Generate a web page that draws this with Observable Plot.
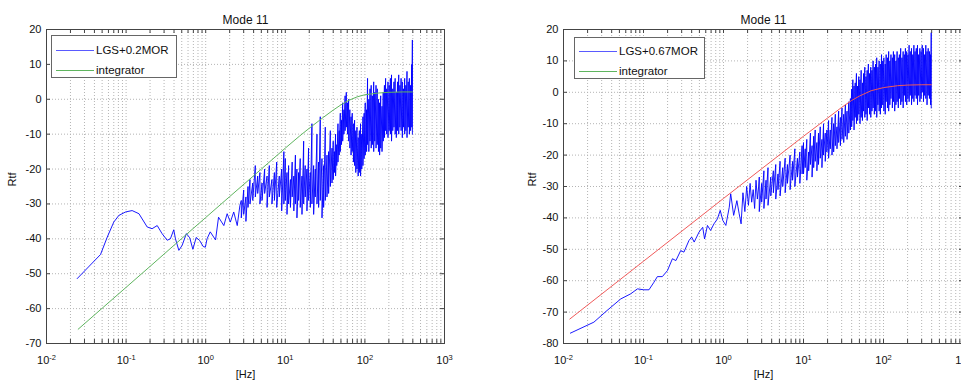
<!DOCTYPE html>
<html><head><meta charset="utf-8">
<script src="https://cdn.jsdelivr.net/npm/d3@7"></script>
<script src="https://cdn.jsdelivr.net/npm/@observablehq/plot@0.6"></script>
<style>
html,body{margin:0;padding:0;background:#fff;}
body{width:961px;height:385px;overflow:hidden;position:relative;font-family:"Liberation Sans",Arial,sans-serif;}
.panel{position:absolute;top:0;height:385px;}
.legend{position:absolute;background:#fff;border:1px solid #666;box-sizing:border-box;font-size:11.5px;color:#111;z-index:2;}
.legend .row{position:absolute;left:0;height:14px;line-height:14px;white-space:nowrap;}
.legend .sw{position:absolute;top:7px;height:1px;}
.legend .lbl{position:absolute;top:0;}
</style></head>
<body>
<div id="left" class="panel" style="left:0;width:480px"></div>
<div id="right" class="panel" style="left:480px;width:520px"></div>
<script>
// ---- text / ticks ----
const titles = ["Mode 11", "Mode 11"];
const xLabel = "[Hz]";
const yLabel = "Rtf";
const leftLegend = ["LGS+0.2MOR", "integrator"];
const rightLegend = ["LGS+0.67MOR", "integrator"];
const xTicks = [0.01, 0.1, 1, 10, 100, 1000];
const leftYTicks = [20, 10, 0, -10, -20, -30, -40, -50, -60, -70];
const rightYTicks = [20, 10, 0, -10, -20, -30, -40, -50, -60, -70, -80];

// ---- left panel: LGS+0.2MOR (low-frequency part) ----
const leftLowF = [0.0243,0.0477,0.058,0.07,0.081,0.0983,0.119,0.145,0.184,0.212,0.246,0.283,0.328,0.36,0.397,0.417,0.46,0.505,0.572,0.63,0.69,0.76,0.84,0.93,0.99,1.04,1.14,1.33,1.45,1.69,1.86,2.04,2.25,2.49,2.69];
const leftLowV = [-51.4,-44.5,-39.5,-35.2,-33.3,-32.3,-31.9,-32.8,-36.6,-37.1,-36.2,-38.5,-40.4,-40,-37.4,-40,-43.3,-41.9,-38.5,-39.7,-43,-39.6,-40.5,-42.2,-42.4,-40,-38,-40.3,-33.8,-36.2,-32.8,-35.2,-32.3,-36.2,-30.4];

// ---- frequencies of the noisy part (both panels) ----
const noiseF = [2.8,3.0,3.2,3.4,3.6,3.9,4.2,4.5,4.8,5.1,5.5,5.9,6.3,6.8,7.3,7.8,8.4,9.0,9.6,
  10,10.5,11,11.6,12.2,12.8,13.4,14,14.7,15.4,16.2,17,17.8,18.7,19.6,20.6,21.6,22.7,23.8,25,26.2,27.5,28.9,30.3,31.8,33.4,35,36.8,38.6,
  40,41.4,42.8,44.3,45.9,47.5,49.1,50.8,52.6,54.5,56.4,58.4,60.4,62.5,64.7,67,69.3,71.7,74.2,76.8,79.5,82.3,85.2,88.2,91.3,94.5,97.8,101,105,108,112,116,120,124,129,133,138,143,148,153,158,164,170,176,182,188,195,202,209,216,224,232,240,248,257,266,275,285,295,305,316,327,338,350,362,375,388,395];

// left noisy part: upper and lower excursions
const leftHi = [-29,-26,-28,-25,-23,-24,-19,-22,-21,-24,-20,-22,-19,-23,-21,-18,-22,-20,-15,
  -17,-21,-19,-23,-18,-22,-16,-20,-21,-17,-22,-12,-19,-20,-14,-21,-7,-19,-20,-10,-18,-5,-17,-19,-8,-16,-15,-9,-14,
  -12,-15,-10,-13,-7,-9,-4,-6,-1,-3,1,2,-1,0,-3,-5,-4,-7,-6,-9,-8,-11,-9,-7,-10,-5,-4,-1,-3,6,0,3,4,1,5,2,4,3,0,-1,1,-2,2,4,6,3,5,4,6,7,3,5,6,2,5,7,4,6,5,3,6,4,8,5,6,4,10,17];
const leftLo = [-34,-33,-35,-31,-30,-29,-28,-27,-30,-29,-27,-31,-28,-30,-29,-31,-28,-32,-30,
  -29,-33,-30,-31,-28,-32,-30,-34,-29,-31,-33,-30,-28,-32,-29,-31,-30,-33,-28,-30,-31,-29,-34,-31,-29,-28,-27,-25,-24,
  -23,-21,-22,-19,-18,-16,-15,-13,-12,-10,-9,-8,-10,-12,-14,-16,-15,-18,-19,-21,-20,-22,-21,-22,-20,-19,-17,-16,-15,-13,-15,-12,-14,-13,-15,-12,-14,-13,-15,-16,-14,-15,-12,-11,-9,-10,-11,-9,-10,-12,-9,-8,-10,-11,-9,-10,-8,-9,-11,-8,-10,-9,-11,-8,-10,-9,-8,-10];

// left integrator
const leftIntF = [0.025,0.05,0.1,0.2,0.5,1,2,5,10,15,20,30,40,50,60,80,100,150,200,300,395];
const leftIntV = [-65.9,-59.9,-53.9,-47.9,-39.9,-33.9,-27.9,-20,-14,-10.6,-8.3,-5.2,-3.1,-1.6,-0.5,0.7,1.3,1.8,2,2.1,2.1];

// ---- right panel: LGS+0.67MOR (low-frequency part) ----
const rightLowF = [0.0122,0.024,0.035,0.052,0.069,0.084,0.101,0.117,0.135,0.149,0.172,0.199,0.23,0.254,0.292,0.32,0.37,0.40,0.43,0.495,0.55,0.58,0.63,0.69,0.76,0.84,0.91,0.98,1.07,1.18,1.23,1.34,1.47,1.57,1.66,1.75,1.85,1.95,2.05,2.15,2.25,2.35,2.45,2.55,2.65,2.75];
const rightLowV = [-76.7,-73.2,-69.5,-65.8,-64.2,-62.6,-62.9,-62.9,-60.5,-58.7,-58.7,-56.8,-53,-53.6,-50.4,-50.9,-47.2,-46.1,-47.7,-44.5,-43,-46.7,-42.4,-44,-41.9,-40.3,-37.6,-40.8,-42.4,-36.6,-32.3,-39.2,-34.5,-38.7,-41.9,-32,-38,-30,-36,-29,-35,-31,-37,-28,-34,-30];

const rightHi = [-27,-29,-25,-28,-24,-27,-25,-23,-26,-22,-24,-21,-23,-20,-22,-18,-21,-19,-17,
  -16,-18,-15,-19,-13,-17,-14,-12,-16,-13,-11,-15,-10,-13,-12,-9,-12,-8,-10,-7,-11,-6,-8,-5,-7,-4,-6,-3,-2,
  1,4,2,3,6,2,5,4,7,3,6,8,5,7,9,6,8,7,10,8,9,11,8,10,9,12,10,11,9,12,11,13,10,12,11,13,12,10,13,11,12,14,11,13,12,14,13,12,15,13,14,12,15,13,14,15,12,14,13,15,14,12,15,13,14,13,12,19];
const rightLo = [-38,-35,-37,-34,-36,-33,-32,-34,-31,-33,-30,-32,-29,-31,-28,-30,-27,-29,-26,
  -26,-24,-28,-25,-23,-27,-24,-22,-25,-23,-21,-24,-20,-22,-19,-21,-18,-20,-19,-17,-18,-16,-17,-15,-16,-14,-15,-13,-12,
  -11,-9,-12,-8,-10,-9,-7,-10,-8,-9,-6,-8,-7,-9,-5,-7,-8,-6,-5,-7,-6,-8,-4,-6,-7,-5,-4,-6,-7,-3,-5,-6,-4,-2,-5,-3,-6,-4,-3,-5,-2,-4,-3,-5,-1,-3,-4,-2,-3,-1,-4,-2,-3,-1,-2,-4,-1,-3,-2,0,-3,-1,-2,-4,-1,-2,-4,-5];

// right "integrator" curve
const rightIntF = [0.012,0.1,1,10,20,30,40,50,70,100,150,200,300,395];
const rightIntV = [-72.2,-53.8,-33.8,-14,-8.2,-4.8,-2.6,-1.2,0.5,1.5,2.1,2.3,2.4,2.4];

// ---- build series tables ----
function buildSeries(lowF, lowV, hi, lo) {
  const pts = lowF.map((f, i) => ({f, v: lowV[i]}));
  noiseF.forEach((f, i) => { pts.push({f, v: hi[i]}); pts.push({f, v: lo[i]}); });
  return pts;
}
const zipFV = (F, V) => F.map((f, i) => ({f, v: V[i]}));

const BLUE = "#0000ff";
const GREEN = "#5fb55f";
const RED = "#f05a5a";
const LEG_BLUE = "#5a5aff";

function panel(el, o) {
  const H = 385, mt = 29, mb = 42;
  const frameH = H - mt - mb;
  const frameW = o.width - o.marginLeft - o.marginRight;
  const minor = d3.scaleLog().domain([xTicks[0], xTicks[xTicks.length - 1]]).ticks();
  const grid = {stroke: "#b4b4b4", strokeDasharray: "1,2", strokeWidth: 1};
  const tk = {stroke: "#444", strokeWidth: 1};
  const svg = Plot.plot({
    width: o.width, height: H,
    marginLeft: o.marginLeft, marginRight: o.marginRight, marginTop: mt, marginBottom: mb,
    style: {background: "#fff", fontFamily: "'Liberation Sans', Arial, sans-serif", fontSize: "11px", color: "#111", overflow: "visible"},
    x: {type: "log", domain: [xTicks[0], xTicks[xTicks.length - 1]]},
    y: {domain: [o.yTicks[o.yTicks.length - 1], o.yTicks[0]]},
    marks: [
      Plot.ruleX(minor, grid),
      Plot.ruleY(o.yTicks, grid),
      Plot.line(o.series, {x: "f", y: "v", stroke: BLUE, strokeWidth: 0.9}),
      Plot.line(o.integ, {x: "f", y: "v", stroke: o.intColor, strokeWidth: 1}),
      Plot.frame({stroke: "#444"}),
      Plot.tickX(minor, {insetTop: frameH - 4, ...tk}),
      Plot.tickX(minor, {insetBottom: frameH - 4, ...tk}),
      Plot.tickY(o.yTicks, {insetRight: frameW - 4, ...tk}),
      Plot.tickY(o.yTicks, {insetLeft: frameW - 4, ...tk}),
      Plot.axisX(xTicks, {tickSize: 0, tickPadding: 13, label: null, fontSize: 11,
        tickFormat: d => "10^" + Math.round(Math.log10(d))}),
      Plot.axisY(o.yTicks, {tickSize: 0, tickPadding: 5, label: null, fontSize: 11,
        tickFormat: d => String(d)}),
      Plot.text([o.title], {text: d => d, frameAnchor: "top", dy: -14, fontSize: 12}),
      Plot.text([xLabel], {text: d => d, frameAnchor: "bottom", dy: 34, fontSize: 11}),
      Plot.text([yLabel], {text: d => d, frameAnchor: "left", dx: o.yLabelDx, rotate: -90, fontSize: 11})
    ]
  });
  // superscript exponents on the x tick labels
  svg.querySelectorAll('[aria-label="x-axis tick label"] text').forEach(t => {
    const parts = t.textContent.split("^");
    if (parts.length !== 2) return;
    t.textContent = parts[0];
    const ts = document.createElementNS("http://www.w3.org/2000/svg", "tspan");
    ts.setAttribute("dy", "-0.62em");
    ts.setAttribute("font-size", "7.5");
    ts.textContent = parts[1];
    t.appendChild(ts);
  });
  el.appendChild(svg);

  // legend box
  const lg = document.createElement("div");
  lg.className = "legend";
  Object.assign(lg.style, {left: o.legend.left + "px", top: o.legend.top + "px", width: o.legend.width + "px", height: o.legend.height + "px"});
  o.legendLabels.forEach((name, i) => {
    const row = document.createElement("div");
    row.className = "row";
    row.style.top = (o.legend.rows[i] - 7) + "px";
    row.style.width = "100%";
    const sw = document.createElement("div");
    sw.className = "sw";
    sw.style.left = "4px";
    sw.style.width = "38px";
    sw.style.backgroundColor = o.legendColors[i];
    const lb = document.createElement("div");
    lb.className = "lbl";
    lb.style.left = "44px";
    lb.textContent = name;
    row.appendChild(sw); row.appendChild(lb);
    lg.appendChild(row);
  });
  el.appendChild(lg);
}

panel(document.getElementById("left"), {
  width: 480, marginLeft: 46, marginRight: 36, yTicks: leftYTicks, title: titles[0], yLabelDx: -34,
  series: buildSeries(leftLowF, leftLowV, leftHi, leftLo),
  integ: zipFV(leftIntF, leftIntV), intColor: GREEN,
  legendLabels: leftLegend, legendColors: [LEG_BLUE, GREEN],
  legend: {left: 51, top: 35, width: 126, height: 43, rows: [14, 34]}
});
panel(document.getElementById("right"), {
  width: 520, marginLeft: 83, marginRight: 37, yTicks: rightYTicks, title: titles[1], yLabelDx: -31,
  series: buildSeries(rightLowF, rightLowV, rightHi, rightLo),
  integ: zipFV(rightIntF, rightIntV), intColor: RED,
  legendLabels: rightLegend, legendColors: [LEG_BLUE, GREEN],
  legend: {left: 94, top: 37, width: 131, height: 42, rows: [13, 33]}
});
</script>
</body></html>
